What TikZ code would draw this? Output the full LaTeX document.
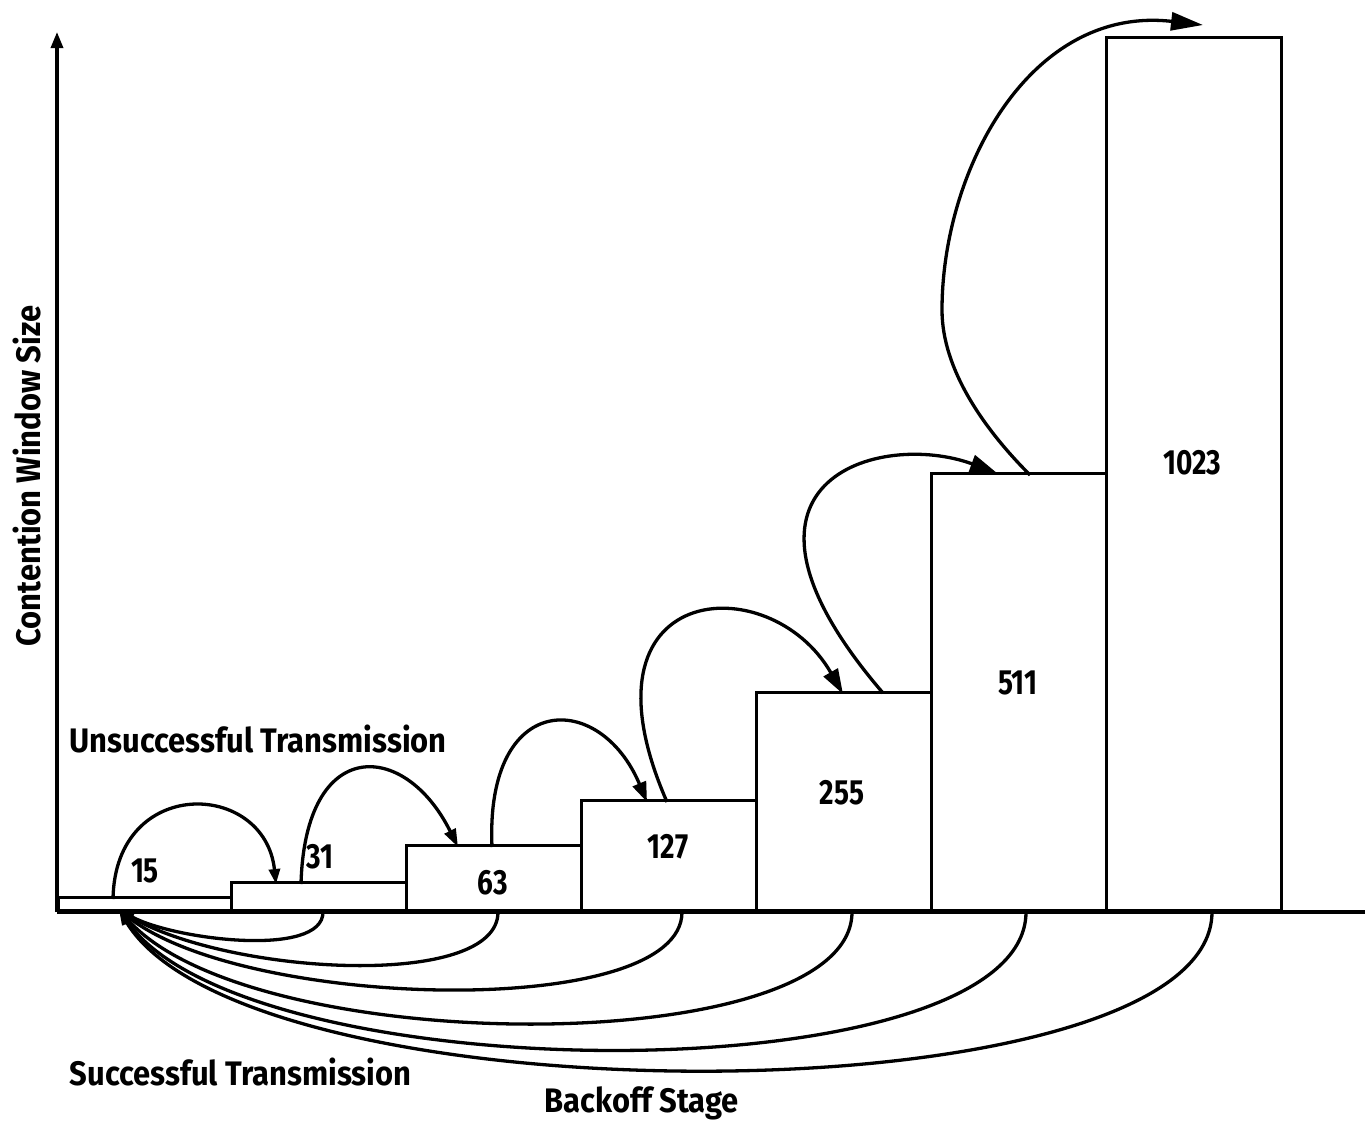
\documentclass[tikz,border=0pt]{standalone}
\usepackage{fontspec}
\setmainfont{Fira Sans}[FakeStretch=0.8]
\newfontfamily\captionfont{Fira Sans}[FakeStretch=0.91]
\usetikzlibrary{arrows.meta}
\begin{document}
\begin{tikzpicture}[x=1pt,y=-1pt,
  line width=3.3pt,
  bar/.style={draw, line width=3.1pt, inner sep=0pt, anchor=south west},
  num/.style={font=\fontsize{35}{40}\selectfont\bfseries, inner sep=0pt},
  txt/.style={font=\captionfont\fontsize{34}{40}\selectfont\bfseries, inner sep=0pt},
  back/.style={-{Triangle[length=15pt,width=10pt]}}]
\useasboundingbox (0,0) rectangle (1372,1122);

% axes
\coordinate (O) at (57,912);
\coordinate (ytop) at (57,32);
\coordinate (xend) at (1365,912);
\draw[-{Triangle[length=16pt,width=12pt]}] (O) -- (ytop);
\draw (O) -- (xend);

% contention window bars, one per backoff stage
\node[bar, minimum width=173pt, minimum height=13pt]  (b1) at (57,912)   {};
\node[bar, minimum width=175pt, minimum height=28pt]  (b2) at (230,912)  {};
\node[bar, minimum width=175pt, minimum height=65pt]  (b3) at (405,912)  {};
\node[bar, minimum width=175pt, minimum height=110pt] (b4) at (580,912)  {};
\node[bar, minimum width=175pt, minimum height=218pt] (b5) at (755,912)  {};
\node[bar, minimum width=175pt, minimum height=437pt] (b6) at (930,912)  {};
\node[bar, minimum width=175pt, minimum height=873pt] (b7) at (1105,912) {};

% window sizes
\node[num] (n1) at (145,871)  {15};
\node[num] (n2) at (320,857)  {31};
\node[num] (n3) at (493,883)  {63};
\node[num] (n4) at (668,847)  {127};
\node[num] (n5) at (842,793)  {255};
\node[num] (n6) at (1018,683) {511};
\node[num] (n7) at (1192,463) {1023};

% start and end points of the loops above the bars
\coordinate (u1s) at (113,899);  \coordinate (u1e) at (276,884);
\coordinate (u2s) at (301,884);  \coordinate (u2e) at (458,847);
\coordinate (u3s) at (492,847);  \coordinate (u3e) at (647,802);
\coordinate (u4s) at (667,802);  \coordinate (u4e) at (843,694);
\coordinate (u5s) at (883,693);  \coordinate (u5e) at (997,473);
\coordinate (u6s) at (1030,475); \coordinate (u6m) at (942,310);
\coordinate (u6e) at (1203,25);

% unsuccessful transmission: move to the next stage
\draw[-{Triangle[length=15pt,width=11pt]}] (u1s) .. controls (115,775) and (265,780) .. (u1e);
\draw[-{Triangle[length=18pt,width=12pt]}] (u2s) .. controls (305,735) and (405,740) .. (u2e);
\draw[-{Triangle[length=20pt,width=14pt]}] (u3s) .. controls (485,690) and (600,690) .. (u3e);
\draw[-{Triangle[length=25pt,width=16pt]}] (u4s) .. controls (570,580) and (770,566) .. (u4e);
\draw[-{Triangle[length=27pt,width=18pt]}] (u5s) .. controls (700,480) and (880,430) .. (u5e);
\draw[-{Triangle[length=32pt,width=18pt]}] (u6s) .. controls (985,430) and (942,370) .. (u6m)
      .. controls (942,170) and (1030,5) .. (u6e);

% successful transmission: return to the first stage
\coordinate (home) at (119,910);
\coordinate (d1) at (323,912);
\coordinate (d2) at (498,912);
\coordinate (d3) at (682,912);
\coordinate (d4) at (852,912);
\coordinate (d5) at (1026,912);
\coordinate (d6) at (1212,912);
\draw[back] (d1) .. controls (323,958)  and (175,940)  .. (home);
\draw[back] (d2) .. controls (498,990)  and (230,975)  .. (home);
\draw[back] (d3) .. controls (682,1020) and (250,1010) .. (home);
\draw[back] (d4) .. controls (852,1060) and (255,1060) .. (home);
\draw[back] (d5) .. controls (1026,1095) and (250,1095) .. (home);
\draw[back] (d6) .. controls (1212,1120) and (250,1125) .. (home);

% captions
\node[txt, anchor=base west] (unsucc) at (68,752)  {Unsuccessful Transmission};
\node[txt, anchor=base west] (succ)   at (68,1085) {Successful Transmission};
\node[txt, anchor=base west] (stage)  at (543,1112) {Backoff Stage};
\node[txt, rotate=90] (cw) at (27,476) {Contention Window Size};
\end{tikzpicture}
\end{document}
